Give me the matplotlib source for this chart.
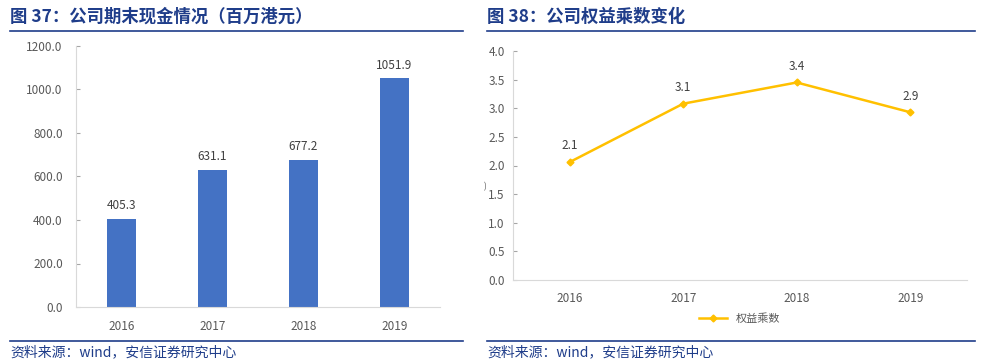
import matplotlib.pyplot as plt
from matplotlib.lines import Line2D

plt.rcParams['font.family'] = ['Noto Sans CJK SC', 'DejaVu Sans']

# 数据
years = ['2016', '2017', '2018', '2019']
cash = [405.3, 631.1, 677.2, 1051.9]
cash_labels = ['405.3', '631.1', '677.2', '1051.9']
multiplier = [2.06, 3.08, 3.45, 2.93]
mult_labels = ['2.1', '3.1', '3.4', '2.9']

title_l = '图 37：公司期末现金情况（百万港元）'
title_r = '图 38：公司权益乘数变化'
source = '资料来源：wind，安信证券研究中心'

navy = '#1F3D8A'
grey_txt = '#595959'
axis_c = '#D9D9D9'

fig = plt.figure(figsize=(9.97, 3.62), dpi=100)

def frame(x0, x1, title):
    # 标题、上下横线、资料来源
    fig.text(x0 / 997, 1 - 17 / 362, title, color=navy, fontsize=12.5,
             fontweight='bold', va='center', ha='left')
    fig.add_artist(Line2D([x0 / 997, x1 / 997], [1 - 31 / 362] * 2,
                          color=navy, lw=1.2))
    fig.add_artist(Line2D([x0 / 997, x1 / 997], [1 - 341 / 362] * 2,
                          color=navy, lw=1.2))
    fig.text(x0 / 997, 1 - 352 / 362, source, color=navy, fontsize=10,
             va='center', ha='left', style='italic')

def style_axes(ax, pad):
    for s in ['top', 'right']:
        ax.spines[s].set_visible(False)
    ax.spines['left'].set_color(axis_c)
    ax.spines['bottom'].set_color(axis_c)
    ax.tick_params(axis='y', colors=grey_txt, labelsize=8.5, direction='in',
                   length=3, color='#A6A6A6', pad=pad)
    ax.tick_params(axis='x', colors=grey_txt, labelsize=8.5, length=0, pad=9)

# 左图：期末现金
frame(10, 463, title_l)
ax1 = fig.add_axes([76 / 997, 1 - 307 / 362, 364 / 997, 261 / 362])
x = range(len(years))
ax1.bar(x, cash, width=0.32, color='#4472C4')
for i, (v, lab) in enumerate(zip(cash, cash_labels)):
    ax1.text(i, v + 30, lab, ha='center', va='bottom', fontsize=8.5, color='#404040')
ax1.set_xlim(-0.5, 3.5)
ax1.set_ylim(0, 1200)
ax1.set_yticks([0, 200, 400, 600, 800, 1000, 1200])
ax1.set_yticklabels(['%.1f' % t for t in ax1.get_yticks()])
ax1.set_xticks(list(x))
ax1.set_xticklabels(years)
style_axes(ax1, 9.5)

# 右图：权益乘数
frame(487, 975, title_r)
ax2 = fig.add_axes([513 / 997, 1 - 280 / 362, 454 / 997, 229 / 362])
ax2.plot(x, multiplier, color='#FFC000', lw=1.8, marker='D', markersize=3.5,
         label='权益乘数')
for i, (v, lab) in enumerate(zip(multiplier, mult_labels)):
    ax2.text(i, v + 0.17, lab, ha='center', va='bottom', fontsize=8.5, color='#404040')
ax2.set_xlim(-0.5, 3.5)
ax2.set_ylim(0, 4)
ax2.set_yticks([0, 0.5, 1, 1.5, 2, 2.5, 3, 3.5, 4])
ax2.set_yticklabels(['%.1f' % t for t in ax2.get_yticks()])
ax2.set_xticks(list(x))
ax2.set_xticklabels(years)
style_axes(ax2, 6)
ax2.legend(loc='center', bbox_to_anchor=(0.5, -0.17), frameon=False,
           fontsize=8, labelcolor=grey_txt, handlelength=2.5)
fig.text(485 / 997, 1 - 187 / 362, ')', color=grey_txt, fontsize=6, ha='center', va='center')

fig.savefig('out.png', dpi=100)
